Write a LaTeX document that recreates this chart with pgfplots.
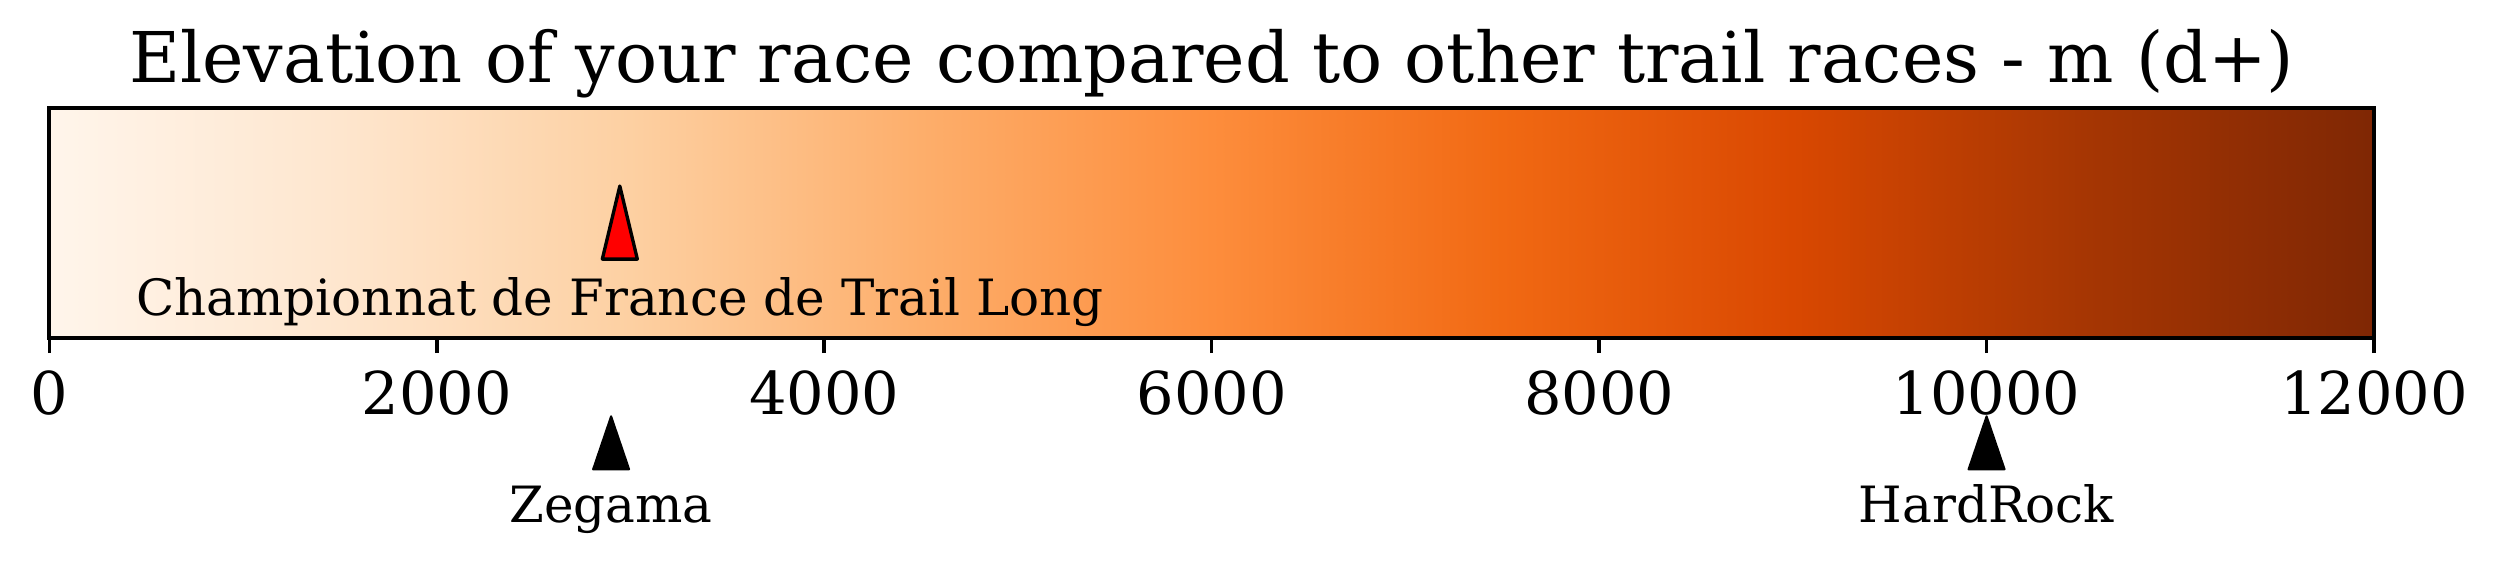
\documentclass[border=0pt]{standalone}
\usepackage{fontspec}
\setmainfont{DejaVu Serif}
\usepackage{pgfplots}
\pgfplotsset{compat=1.18}
\begin{document}
\begin{tikzpicture}
\useasboundingbox (0,0) rectangle (499.2pt,113pt);
\begin{axis}[
  at={(9.86pt,45.4pt)}, anchor=south west,
  scale only axis, width=464.94pt, height=46pt,
  xmin=0, xmax=12000, ymin=0, ymax=1,
  xtick={0,2000,4000,6000,8000,10000,12000}, ytick=\empty,
  xtick pos=bottom,
  tick align=outside, major tick length=3pt,
  every tick/.style={black, line width=0.7pt},
  axis line style={line width=0.8pt},
  /pgf/number format/assume math mode=true,
  /pgf/number format/1000 sep={},
  scaled x ticks=false,
  xticklabel style={font=\fontsize{11.8}{14}\selectfont},
  clip=false, axis on top,
  colormap={oranges}{rgb255=(255,245,235) rgb255=(254,230,206) rgb255=(253,208,162) rgb255=(253,174,107) rgb255=(253,141,60) rgb255=(241,105,19) rgb255=(217,72,1) rgb255=(166,54,3) rgb255=(127,39,4)},
  point meta min=0, point meta max=12000,
]
\addplot[surf, shader=interp, mesh/cols=9, point meta=explicit] table[meta=c] {
x y c
0 0 0
1500 0 1500
3000 0 3000
4500 0 4500
6000 0 6000
7500 0 7500
9000 0 9000
10500 0 10500
12000 0 12000
0 1 0
1500 1 1500
3000 1 3000
4500 1 4500
6000 1 6000
7500 1 7500
9000 1 9000
10500 1 10500
12000 1 12000
};
% your race
\addplot[only marks, mark=triangle*, mark size=4.04pt,
  mark options={fill=red, draw=black, line width=0.67pt, line join=round, yscale=2.41}]
  coordinates {(2945,0.449)};
% other races
\addplot[only marks, mark=triangle*, mark size=4.16pt,
  mark options={fill=black, draw=black, line width=0.4pt, line join=round, yscale=1.70}]
  coordinates {(2900,-0.494) (10000,-0.494)};
\node[anchor=base, font=\fontsize{10}{12}\selectfont] at (axis cs:2945,0.1) {Championnat de France de Trail Long};
\node[anchor=base, font=\fontsize{10}{12}\selectfont] at (axis cs:2900,-0.804) {Zegama};
\node[anchor=base, font=\fontsize{10}{12}\selectfont] at (axis cs:10000,-0.804) {HardRock};
\node[anchor=base, font=\fontsize{14}{16}\selectfont, yshift=5.2pt] at (axis description cs:0.5,1) {Elevation of your race compared to other trail races - m (d+)};
\end{axis}
\end{tikzpicture}
\end{document}
